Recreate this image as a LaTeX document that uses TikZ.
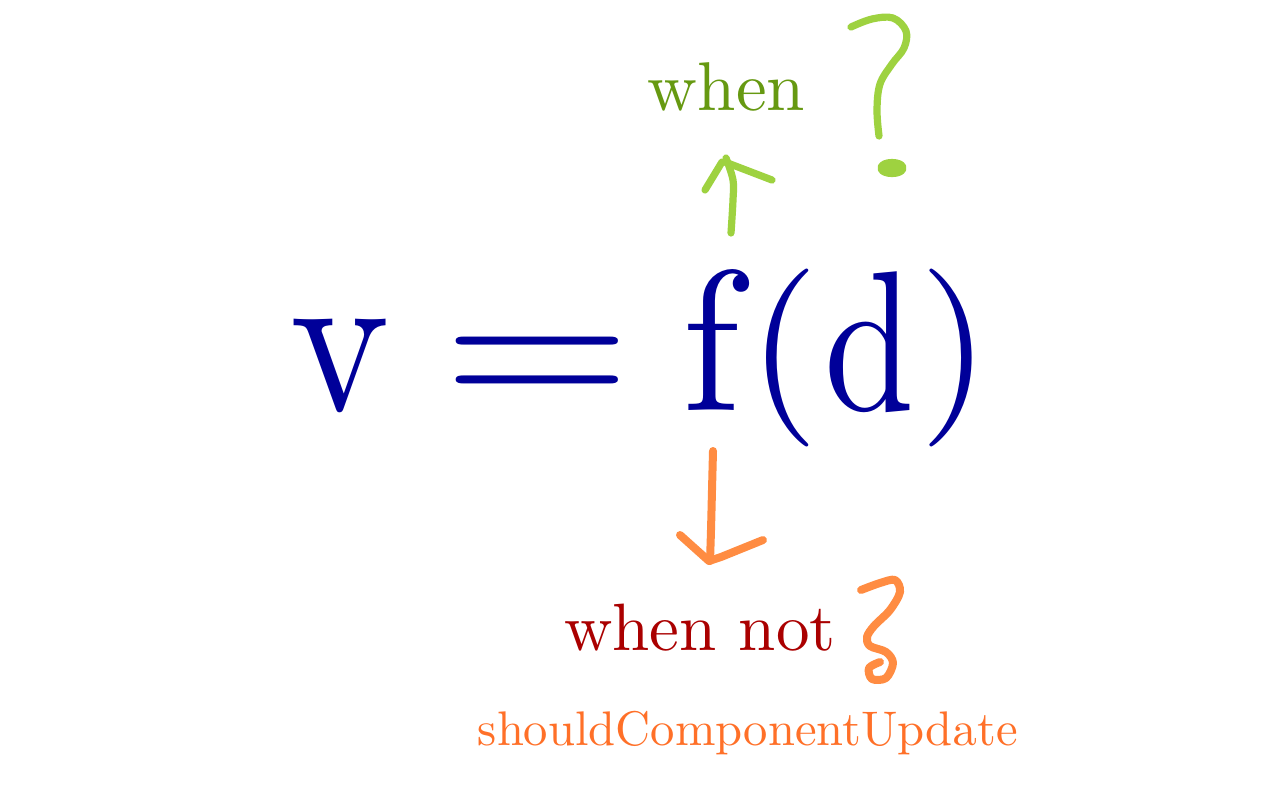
\documentclass[tikz,border=0pt]{standalone}
\usepackage{graphicx}
\definecolor{eqblue}{RGB}{0,0,153}
\definecolor{whengreen}{RGB}{102,153,17}
\definecolor{strokegreen}{RGB}{158,210,64}
\definecolor{notred}{RGB}{170,0,0}
\definecolor{strokeorange}{RGB}{255,140,66}
\definecolor{scuorange}{RGB}{255,112,40}
\font\eqfont=cmr10 at 100pt
\font\whenfont=cmr10 at 34.5pt
\font\notfont=cmr10 at 33.5pt
\font\scufont=cmr10 at 24.3pt
\begin{document}
\begin{tikzpicture}[x=0.5pt,y=-0.5pt,
  glyph/.style={inner sep=0pt, outer sep=0pt, anchor=base, text=eqblue, font=\eqfont},
  label/.style={inner sep=0pt, outer sep=0pt, anchor=base},
  gstroke/.style={draw=strokegreen, line width=3.6pt, line cap=round, line join=round},
  ostroke/.style={draw=strokeorange, line width=4pt, line cap=round, line join=round}]
\useasboundingbox[fill=white] (0,0) rectangle (1280,800);
% equation
\node[glyph] (v)  at (340,410) {\scalebox{0.94}[1.06]{v}};
\node[glyph] (eq) at (537.5,410) {\scalebox{1.22}[1]{=}};
\node[glyph] (f)  at (711,410) {\scalebox{0.94}[1]{f}};
\node[glyph] (lp) at (783.4,402.5) {\scalebox{0.91}[0.89]{(}};
\node[glyph] (d)  at (869,410) {\scalebox{0.81}[1]{d}};
\node[glyph] (rp) at (955,402.5) {\scalebox{0.91}[0.89]{)}};
% labels
\node[label, text=whengreen, font=\whenfont] (when) at (726.5,110) {when};
\node[label, text=notred, font=\notfont] (whennot) at (700,650) {when not};
\node[label, text=scuorange, font=\scufont] (scu) at (748,745) {shouldComponentUpdate};
% green up arrow
\draw[gstroke] plot[smooth, tension=0.6] coordinates {(731,233) (733,200) (733,180) (726,158)};
\draw[gstroke] (705,190) -- (722,162);
\draw[gstroke] (725,162) -- (772,180);
% green question mark
\draw[gstroke] plot[smooth, tension=0.6] coordinates {(851,27) (872,19) (893,18) (906,31) (904,48) (892,64) (880,84) (877,110) (879,136)};
\draw[gstroke, line width=4.6pt] (892,168) ellipse [x radius=10, y radius=4.5];
% orange down arrow
\draw[ostroke] plot[smooth, tension=0.6] coordinates {(713,451) (712,490) (711,530) (710,561)};
\draw[ostroke] (680,535) -- (709,561) -- (721,557) -- (763,540);
% orange question mark
\draw[ostroke] plot[smooth, tension=0.55] coordinates {(861,590) (880,583) (895,580) (900,592) (890,610) (874,626) (867,637) (870,646) (886,652) (893,663) (886,678) (872,679) (869,668) (880,662)};
\end{tikzpicture}
\end{document}
